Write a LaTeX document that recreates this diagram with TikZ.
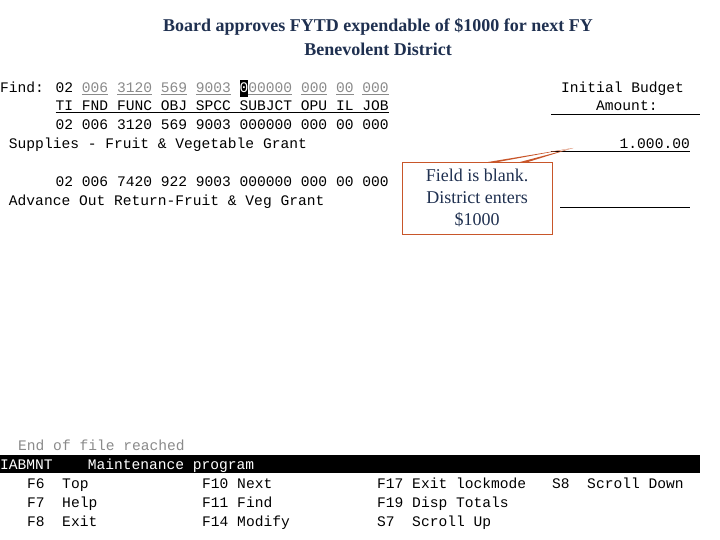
\documentclass[tikz,border=0pt]{standalone}
\usepackage{fontspec}
\setmainfont{Liberation Serif}
\newfontfamily\term{Liberation Mono}
\definecolor{navy}{HTML}{1F3050}
\definecolor{callc}{HTML}{C8562A}
\definecolor{gr}{HTML}{8A8A8A}
\newcommand{\g}[1]{\textcolor{gr}{\underline{#1}}}
\newcommand{\cursorch}{\rlap{\color{black}\rule[-4pt]{8.76pt}{17pt}}\textcolor{white}{0}}
\begin{document}
\begin{tikzpicture}[x=1pt,y=-1pt,
  tt/.style={anchor=base west,inner sep=0pt,font=\term\fontsize{14.6}{16}\selectfont},
  ttl/.style={font=\bfseries\fontsize{18}{21}\selectfont,text=navy,inner sep=0pt}]
\useasboundingbox (0,0) rectangle (720,540);
\node[ttl] (t1) at (378,27) {Board approves FYTD expendable of \$1000 for next FY};
\node[ttl] (t2) at (378,49) {Benevolent District};
\node[tt] (f1) at (0,93) {Find: 02 \g{006} \g{3120} \g{569} \g{9003} \cursorch\g{00000} \g{000} \g{00} \g{000}};
\node[tt] (f2) at (0,111) {\phantom{Find: }\underline{TI FND FUNC OBJ SPCC SUBJCT OPU IL JOB}};
\node[tt] (f3) at (0,130) {\phantom{Find: }02 006 3120 569 9003 000000 000 00 000};
\node[tt] (f4) at (0,149) {\phantom{F}Supplies - Fruit \& Vegetable Grant};
\node[tt] (f5) at (0,187) {\phantom{Find: }02 006 7420 922 9003 000000 000 00 000};
\node[tt] (f6) at (0,206) {\phantom{F}Advance Out Return-Fruit \& Veg Grant};
\node[tt] (r1) at (561,93) {Initial Budget};
\node[tt] (r2) at (596,111) {Amount:};
\draw (551,114) -- (700,114);
\node[tt,anchor=base east] (r3) at (690,149) {1.000.00};
\draw (551,151) -- (690,151);
\draw (560,207) -- (690,207);
\coordinate (tip) at (573,148);
\node[draw=callc,line width=0.8pt,minimum width=150pt,minimum height=72pt,align=center,
  text=navy,font=\fontsize{18}{22}\selectfont] (co) at (477,198) {Field is blank.\\District enters\\\$1000};
\fill[callc] (488,162) -- (tip) -- (498,162) -- cycle;
\fill[callc] (520,162) -- (tip) -- (528,162) -- cycle;
\node[tt,text=gr] (e) at (18,450) {End of file reached};
\fill (0,455) rectangle (700,473);
\node[tt,text=white] (bar) at (0,469) {IABMNT~~~~Maintenance program};
\node[tt] (k1) at (27,488) {F6~~Top};
\node[tt] (k2) at (27,507) {F7~~Help};
\node[tt] (k3) at (27,526) {F8~~Exit};
\node[tt] (k4) at (202,488) {F10 Next};
\node[tt] (k5) at (202,507) {F11 Find};
\node[tt] (k6) at (202,526) {F14 Modify};
\node[tt] (k7) at (377,488) {F17 Exit lockmode};
\node[tt] (k8) at (377,507) {F19 Disp Totals};
\node[tt] (k9) at (377,526) {S7~~Scroll Up};
\node[tt] (k10) at (552,488) {S8~~Scroll Down};
\end{tikzpicture}
\end{document}
